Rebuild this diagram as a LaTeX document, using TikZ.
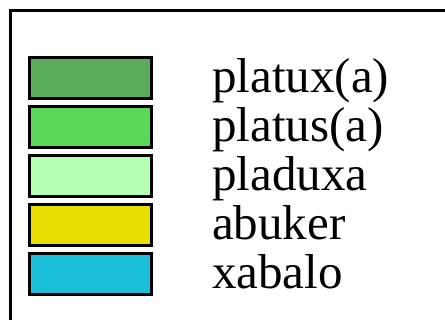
\documentclass[tikz,border=0pt]{standalone}
\usepackage{fontspec}
\setmainfont{Liberation Serif}
\definecolor{greenA}{HTML}{5BAD5B}
\definecolor{greenB}{HTML}{5AD85A}
\definecolor{greenC}{HTML}{B4FFB4}
\definecolor{yellowD}{HTML}{E8DE00}
\definecolor{cyanE}{HTML}{1BBED8}
\tikzset{
  swatch/.style={draw=black, line width=3pt, rectangle, inner sep=0pt,
    minimum width=122pt, minimum height=41pt},
  entry/.style={anchor=base west, inner sep=0pt,
    font=\fontsize{49}{49}\selectfont}
}
\begin{document}
\begin{tikzpicture}[x=1pt, y=-1pt]
      \useasboundingbox (0,0) rectangle (445,320);
      \clip (0,0) rectangle (445,320);
      \draw[line width=2.2pt] (10.5,340) -- (10.5,10.5) -- (460,10.5);
      \node[swatch, fill=greenA] (s1) at (90.5,78) {};
      \node[swatch, fill=greenB] (s2) at (90.5,127) {};
      \node[swatch, fill=greenC] (s3) at (90.5,176) {};
      \node[swatch, fill=yellowD] (s4) at (90.5,225) {};
      \node[swatch, fill=cyanE] (s5) at (90.5,274) {};
      \node[entry] (t1) at (212,93) {platux(a)};
      \node[entry] (t2) at (212,142) {platus(a)};
      \node[entry] (t3) at (212,191) {pladuxa};
      \node[entry] (t4) at (212,240) {abuker};
      \node[entry] (t5) at (212,289) {xabalo};
    \end{tikzpicture}
\end{document}
